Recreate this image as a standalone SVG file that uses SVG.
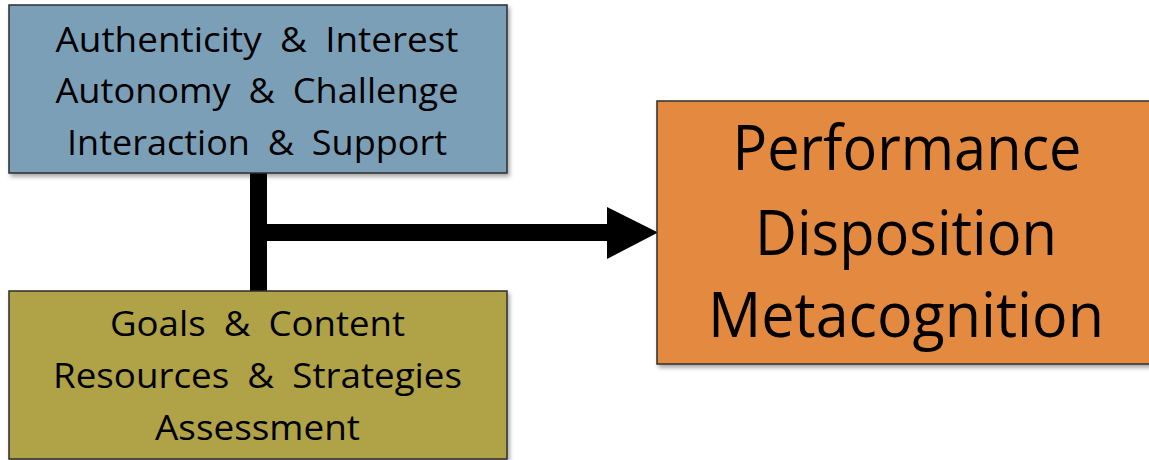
<svg xmlns="http://www.w3.org/2000/svg" width="1149" height="460" viewBox="0 0 1149 460">
  <defs>
    <filter id="sh" x="-5%" y="-5%" width="115%" height="120%">
      <feDropShadow dx="2" dy="3" stdDeviation="2" flood-color="#000" flood-opacity="0.35"/>
    </filter>
  </defs>
  <style>
    .box { stroke: #2e2e2e; stroke-width: 1.5; filter: url(#sh); }
    .t { font-family: "Open Sans", "Liberation Sans", sans-serif; fill: #000; text-anchor: middle; }
    .s { font-size: 34px; word-spacing: 8px; }
    .l { font-size: 62px; }
  </style>
  <rect width="1149" height="460" fill="#fff"/>
  <g id="connectors">
    <rect x="250" y="172" width="17" height="120" fill="#000"/>
    <rect x="258" y="224" width="352" height="17" fill="#000"/>
    <polygon points="607,207 658,232.5 607,259" fill="#000"/>
  </g>
  <g id="node-blue">
    <rect class="box" x="9" y="5" width="498" height="168" fill="#7b9fb8"/>
    <text class="t s" x="257" y="52" textLength="403" lengthAdjust="spacingAndGlyphs">Authenticity &amp; Interest</text>
    <text class="t s" x="257" y="103" textLength="403" lengthAdjust="spacingAndGlyphs">Autonomy &amp; Challenge</text>
    <text class="t s" x="257" y="155" textLength="380" lengthAdjust="spacingAndGlyphs">Interaction &amp; Support</text>
  </g>
  <g id="node-olive">
    <rect class="box" x="9" y="291" width="498" height="168" fill="#afa246"/>
    <text class="t s" x="257.5" y="336" textLength="295" lengthAdjust="spacingAndGlyphs">Goals &amp; Content</text>
    <text class="t s" x="257.5" y="388" textLength="409" lengthAdjust="spacingAndGlyphs">Resources &amp; Strategies</text>
    <text class="t s" x="257.5" y="440" textLength="205" lengthAdjust="spacingAndGlyphs">Assessment</text>
  </g>
  <g id="node-orange">
    <rect class="box" x="657" y="101" width="505" height="263" fill="#e48a3f"/>
    <text class="t l" x="907" y="170" textLength="349" lengthAdjust="spacingAndGlyphs">Performance</text>
    <text class="t l" x="906" y="255" textLength="302" lengthAdjust="spacingAndGlyphs">Disposition</text>
    <text class="t l" x="906" y="337" textLength="396" lengthAdjust="spacingAndGlyphs">Metacognition</text>
  </g>
</svg>
